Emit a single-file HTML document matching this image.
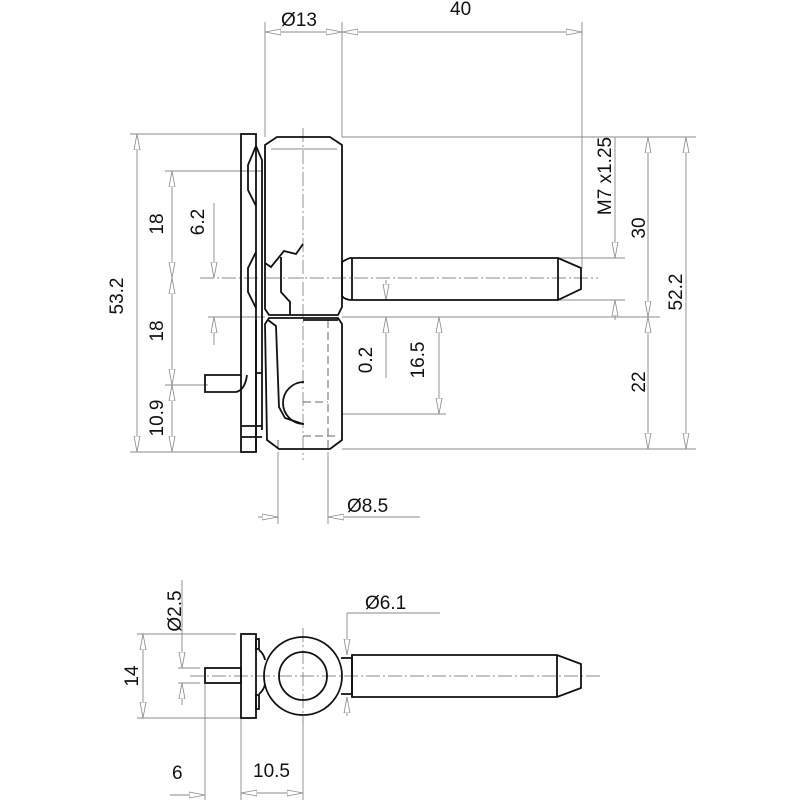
<!DOCTYPE html>
<html><head><meta charset="utf-8"><style>
html,body{margin:0;padding:0;background:#fff}
svg{display:block}
text{font-family:"Liberation Sans",sans-serif;font-size:19px;fill:#111}
.o{stroke:#111;stroke-width:1.8;fill:none}
.d{stroke:#888;stroke-width:0.9;fill:none}
.c{stroke:#888;stroke-width:0.9;fill:none;stroke-dasharray:14 3 2 3}
.h{stroke:#666;stroke-width:1;fill:none;stroke-dasharray:8 4}
</style></head><body>
<svg width="800" height="800" viewBox="0 0 800 800" xmlns="http://www.w3.org/2000/svg">
<defs>
<marker id="a" viewBox="0 0 16 8" refX="16" refY="4" markerWidth="16" markerHeight="8" markerUnits="userSpaceOnUse" orient="auto-start-reverse">
<path d="M0,1 L16,4 L0,7 Z" fill="#fff" stroke="#888" stroke-width="0.8"/>
</marker>
</defs>

<line class="d" x1="265" y1="22" x2="265" y2="137"/>
<line class="d" x1="342" y1="22" x2="342" y2="137"/>
<line class="d" x1="582" y1="22" x2="582" y2="268"/>
<line class="d" x1="342" y1="137" x2="696" y2="137"/>
<line class="d" x1="130" y1="134" x2="241" y2="134"/>
<line class="d" x1="130" y1="452" x2="241" y2="452"/>
<line class="d" x1="342" y1="449" x2="696" y2="449"/>
<line class="d" x1="342" y1="317" x2="660" y2="317"/>
<line class="d" x1="558" y1="258" x2="625" y2="258"/>
<line class="d" x1="558" y1="300" x2="625" y2="300"/>
<line class="d" x1="342" y1="414" x2="446" y2="414"/>
<line class="d" x1="165" y1="171" x2="262" y2="171"/>
<line class="d" x1="165" y1="385" x2="208" y2="385"/>
<line class="d" x1="208" y1="317" x2="265" y2="317"/>
<line class="d" x1="278" y1="452" x2="278" y2="524"/>
<line class="d" x1="328" y1="452" x2="328" y2="524"/>

<line class="d" x1="265" y1="32" x2="342" y2="32" marker-start="url(#a)" marker-end="url(#a)"/>
<line class="d" x1="342" y1="32" x2="582" y2="32" marker-start="url(#a)" marker-end="url(#a)"/>
<line class="d" x1="137" y1="134" x2="137" y2="452" marker-start="url(#a)" marker-end="url(#a)"/>
<line class="d" x1="172" y1="171" x2="172" y2="278" marker-start="url(#a)" marker-end="url(#a)"/>
<line class="d" x1="172" y1="278" x2="172" y2="385" marker-start="url(#a)" marker-end="url(#a)"/>
<line class="d" x1="172" y1="385" x2="172" y2="452" marker-start="url(#a)" marker-end="url(#a)"/>
<line class="d" x1="214" y1="203" x2="214" y2="278" marker-end="url(#a)"/>
<line class="d" x1="214" y1="345" x2="214" y2="317" marker-end="url(#a)"/>
<line class="d" x1="386" y1="280" x2="386" y2="300" marker-end="url(#a)"/>
<line class="d" x1="386" y1="378" x2="386" y2="317" marker-end="url(#a)"/>
<line class="d" x1="439" y1="317" x2="439" y2="414" marker-start="url(#a)" marker-end="url(#a)"/>
<line class="d" x1="615" y1="137" x2="615" y2="258" marker-end="url(#a)"/>
<line class="d" x1="615" y1="320" x2="615" y2="300" marker-end="url(#a)"/>
<line class="d" x1="648" y1="137" x2="648" y2="317" marker-start="url(#a)" marker-end="url(#a)"/>
<line class="d" x1="648" y1="317" x2="648" y2="449" marker-start="url(#a)" marker-end="url(#a)"/>
<line class="d" x1="686" y1="137" x2="686" y2="449" marker-start="url(#a)" marker-end="url(#a)"/>
<line class="d" x1="258" y1="517" x2="278" y2="517" marker-end="url(#a)"/>
<line class="d" x1="420" y1="517" x2="328" y2="517" marker-end="url(#a)"/>

<line class="c" x1="303" y1="128" x2="303" y2="460"/>
<line class="c" x1="200" y1="278" x2="598" y2="278"/>
<line class="h" x1="328" y1="320" x2="328" y2="452"/>
<line class="h" x1="278" y1="440" x2="278" y2="452"/>

<rect class="o" x="241" y="134" width="15" height="318"/>
<path class="o" d="M256,146 L262,160 L262,430 M256,146 L248,165 L248,190 L256,206 M256,252 L248,268 L248,292 L256,308 M256,373 L262,373 M256,320 L256,452"/>
<path class="o" d="M241,426 L262,426 M241,437 L262,437"/>
<path class="o" d="M241,375 L205,375 L205,392 L236,392 Q245,390 247,375"/>

<path class="o" d="M277,137 L330,137 L342,145 L342,307 L338,315 L269,315 L265,309 L265,145 Z"/>
<line class="d" x1="271" y1="149" x2="337" y2="149"/>
<path class="o" d="M265,263 L271,267 L284,251 L296,254 L303,244"/>
<path class="o" d="M281,257 L281,292 L290,302 L290,315"/>
<path class="o" d="M269,318 L338,318 L342,324 L342,440 L330,449 L279,449 L267,440 L265,324 Z"/>
<line class="o" x1="303" y1="320" x2="338" y2="320"/>
<path class="o" d="M268,320 L276,326 L279,407 L285,418 L303,424"/>
<path class="o" d="M304,382 A18,18 0 0 0 304,424"/>
<line class="h" x1="303" y1="402" x2="328" y2="402"/>
<line class="h" x1="303" y1="436" x2="336" y2="436"/>
<path class="o" d="M342,262 Q350,257 352,258 L558,258 L581,268 L581,289 L558,300 L352,300 Q345,300 342,296 Z"/>
<line class="o" x1="352" y1="258" x2="352" y2="300"/>
<line class="o" x1="558" y1="258" x2="558" y2="300"/>

<text x="281" y="26">Ø13</text>
<text x="450" y="15">40</text>
<text x="347" y="512">Ø8.5</text>
<text transform="translate(123,296) rotate(-90)" text-anchor="middle">53.2</text>
<text transform="translate(163,224) rotate(-90)" text-anchor="middle">18</text>
<text transform="translate(204,222) rotate(-90)" text-anchor="middle">6.2</text>
<text transform="translate(163,331) rotate(-90)" text-anchor="middle">18</text>
<text transform="translate(163,418) rotate(-90)" text-anchor="middle">10.9</text>
<text transform="translate(372,360) rotate(-90)" text-anchor="middle">0.2</text>
<text transform="translate(424,360) rotate(-90)" text-anchor="middle">16.5</text>
<text transform="translate(611,176) rotate(-90)" text-anchor="middle">M7 x1.25</text>
<text transform="translate(645,228) rotate(-90)" text-anchor="middle">30</text>
<text transform="translate(682,292) rotate(-90)" text-anchor="middle">52.2</text>
<text transform="translate(645,382) rotate(-90)" text-anchor="middle">22</text>

<line class="d" x1="137" y1="634" x2="236" y2="634"/>
<line class="d" x1="137" y1="718" x2="241" y2="718"/>
<line class="d" x1="178" y1="668" x2="200" y2="668"/>
<line class="d" x1="178" y1="683" x2="200" y2="683"/>
<line class="d" x1="143" y1="634" x2="143" y2="718" marker-start="url(#a)" marker-end="url(#a)"/>
<line class="d" x1="182" y1="580" x2="182" y2="668" marker-end="url(#a)"/>
<line class="d" x1="182" y1="705" x2="182" y2="683" marker-end="url(#a)"/>
<line class="d" x1="347" y1="613" x2="440" y2="613"/>
<line class="d" x1="347" y1="613" x2="347" y2="655" marker-end="url(#a)"/>
<line class="d" x1="347" y1="716" x2="347" y2="697" marker-end="url(#a)"/>
<line class="d" x1="205" y1="683" x2="205" y2="800"/>
<line class="d" x1="241" y1="718" x2="241" y2="800"/>
<line class="d" x1="303" y1="718" x2="303" y2="800"/>
<line class="d" x1="170" y1="795" x2="205" y2="795" marker-end="url(#a)"/>
<line class="d" x1="241" y1="793" x2="303" y2="793" marker-start="url(#a)" marker-end="url(#a)"/>
<line class="c" x1="190" y1="676" x2="600" y2="676"/>
<line class="c" x1="303" y1="628" x2="303" y2="724"/>

<rect class="o" x="241" y="634" width="15" height="84"/>
<rect class="o" x="256" y="639" width="3" height="10"/>
<rect class="o" x="256" y="695" width="3" height="14"/>
<path class="o" d="M259,650 Q264,654 265,660 M259,694 Q264,690 265,684"/>
<rect class="o" x="205" y="668" width="36" height="15"/>
<circle class="o" cx="303" cy="676" r="39"/>
<circle class="o" cx="303" cy="676" r="24"/>
<path class="o" d="M341,658 L352,658 L352,694 L341,694"/>
<path class="o" d="M352,655 L557,655 L581,664 L581,688 L557,697 L352,697 Z"/>
<line class="o" x1="557" y1="655" x2="557" y2="697"/>

<text transform="translate(181,611) rotate(-90)" text-anchor="middle">Ø2.5</text>
<text transform="translate(138,676) rotate(-90)" text-anchor="middle">14</text>
<text x="365" y="609">Ø6.1</text>
<text x="172" y="779">6</text>
<text x="253" y="777">10.5</text>
</svg>
</body></html>
